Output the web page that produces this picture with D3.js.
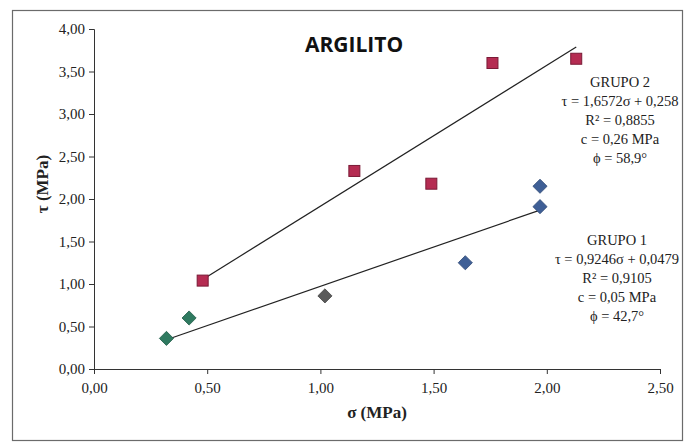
<!DOCTYPE html>
<html>
<head>
<meta charset="utf-8">
<script src="https://cdn.jsdelivr.net/npm/d3@7"></script>
<style>
body{margin:0;background:#fff}
</style>
</head>
<body>
<div id="chart"></div>
<script>
// group 1 (diamonds) and group 2 (squares), sigma / tau in MPa
var g1Sigma = [0.32, 0.42, 1.02, 1.64, 1.97, 1.97]
var g1Tau   = [0.36, 0.60, 0.86, 1.25, 1.91, 2.15]
var g1Color = ['#2f7a60', '#2f7a60', '#5a5a5a', '#3f5f96', '#3f5f96', '#3f5f96']
var g2Sigma = [0.48, 1.15, 1.49, 1.76, 2.13]
var g2Tau   = [1.04, 2.33, 2.18, 3.60, 3.65]
var fit1 = {slope: 0.9246, icpt: 0.0479, from: 0.32, to: 1.97}
var fit2 = {slope: 1.6572, icpt: 0.258, from: 0.48, to: 2.13}
var xTicks = [0, 0.5, 1, 1.5, 2, 2.5]
var yTicks = [0, 0.5, 1, 1.5, 2, 2.5, 3, 3.5, 4]
var note1 = ['GRUPO 1', 'τ = 0,9246σ + 0,0479', 'R² = 0,9105', 'c = 0,05 MPa', 'ϕ = 42,7°']
var note2 = ['GRUPO 2', 'τ = 1,6572σ + 0,258', 'R² = 0,8855', 'c = 0,26 MPa', 'ϕ = 58,9°']

var serif = '"Liberation Serif","Times New Roman",serif'
var W = 684, H = 442
var svg = d3.select('#chart').append('svg')
    .attr('width', W).attr('height', H)

svg.append('rect')
    .attr('x', 12.5).attr('y', 10.5)
    .attr('width', 670).attr('height', 430)
    .attr('fill', '#fff')
    .attr('stroke', '#6b6b6b').attr('stroke-width', 1.2)

var x = d3.scaleLinear().domain([0, 2.5]).range([94, 660])
var y = d3.scaleLinear().domain([0, 4]).range([369, 29])
var fmt = function(d){ return d.toFixed(2).replace('.', ',') }

var xAxis = svg.append('g')
    .attr('transform', 'translate(0,369)')
    .call(d3.axisBottom(x).tickValues(xTicks).tickFormat(fmt).tickSize(5).tickPadding(8))
var yAxis = svg.append('g')
    .attr('transform', 'translate(94,0)')
    .call(d3.axisLeft(y).tickValues(yTicks).tickFormat(fmt).tickSize(5).tickPadding(4))
;[xAxis, yAxis].forEach(function(a){
    a.selectAll('path,line').attr('stroke', '#333').attr('stroke-width', 1)
    a.selectAll('text').style('font-family', serif)
	.style('font-size', '15px').attr('fill', '#222')
})
yAxis.select('.domain').attr('d', 'M-5,369.5H0.5V29.5H-5')

// trend lines
;[fit1, fit2].forEach(function(f){
    svg.append('line')
	.attr('x1', x(f.from)).attr('y1', y(f.slope*f.from+f.icpt))
	.attr('x2', x(f.to)).attr('y2', y(f.slope*f.to+f.icpt))
	.attr('stroke', '#222').attr('stroke-width', 1.2)
})

// markers: diamonds are squares turned 45 degrees
svg.selectAll('rect.g1').data(g1Sigma).enter().append('rect')
    .attr('class', 'g1')
    .attr('x', -5).attr('y', -5)
    .attr('width', 10).attr('height', 10)
    .attr('transform', function(d, i){ return 'translate(' + x(d) + ',' + y(g1Tau[i]) + ') rotate(45)' })
    .attr('fill', function(d, i){ return g1Color[i] })
    .attr('stroke', function(d, i){ return d3.color(g1Color[i]).darker(0.6) })
    .attr('stroke-width', 0.8)

svg.selectAll('rect.g2').data(g2Sigma).enter().append('rect')
    .attr('class', 'g2')
    .attr('x', function(d){ return x(d)-5.5 })
    .attr('y', function(d, i){ return y(g2Tau[i])-5.5 })
    .attr('width', 11).attr('height', 11)
    .attr('fill', '#b52c52')
    .attr('stroke', '#7a1a36').attr('stroke-width', 1)

// title and axis labels
svg.append('text')
    .attr('x', 354).attr('y', 52)
    .attr('text-anchor', 'middle')
    .style('font-family', '"Open Sans","Liberation Sans",sans-serif')
    .attr('font-weight', 'bold').style('font-size', '21px')
    .attr('fill', '#111')
    .text('ARGILITO')

svg.append('text')
    .attr('x', 377).attr('y', 418)
    .attr('text-anchor', 'middle')
    .style('font-family', serif)
    .attr('font-weight', 'bold').style('font-size', '17px')
    .attr('fill', '#222')
    .text('σ (MPa)')

svg.append('text')
    .attr('transform', 'translate(48,184) rotate(-90)')
    .attr('text-anchor', 'middle')
    .style('font-family', serif)
    .attr('font-weight', 'bold').style('font-size', '17px')
    .attr('fill', '#222')
    .text('τ (MPa)')

function Note(lines, cx, top){
    svg.append('g').selectAll('text').data(lines).enter().append('text')
	.attr('x', cx)
	.attr('y', function(d, i){ return top + i*19 })
	.attr('text-anchor', 'middle')
	.style('font-family', serif)
	.style('font-size', '14.5px')
	.attr('fill', '#222')
	.text(function(d){ return d })
}
Note(note2, 620, 87)
Note(note1, 617, 245)
</script>
</body>
</html>
